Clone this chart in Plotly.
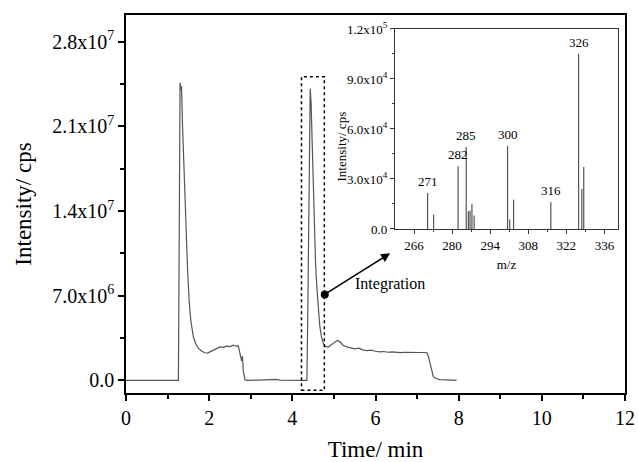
import plotly.graph_objects as go

# ---------------- data ----------------
time_min = [0.0, 1.26, 1.28, 1.30, 1.32, 1.335, 1.36, 1.40, 1.44, 1.48, 1.52, 1.56, 1.62, 1.68,
            1.74, 1.82, 1.90, 1.96, 2.02, 2.10, 2.18, 2.26, 2.34, 2.42, 2.50, 2.58, 2.64, 2.70,
            2.73, 2.76, 2.78, 2.80, 2.82, 2.86, 2.90, 3.20, 3.50, 3.60, 3.70, 4.00, 4.35,
            4.37, 4.40, 4.43, 4.45, 4.48, 4.50, 4.53, 4.56, 4.59, 4.62, 4.66, 4.70, 4.75, 4.80,
            4.86, 4.92, 5.00, 5.08, 5.14, 5.22, 5.31, 5.40, 5.50, 5.60, 5.71, 5.80, 5.90, 6.00,
            6.11, 6.20, 6.30, 6.40, 6.51, 6.60, 6.70, 6.80, 6.91, 7.00, 7.10, 7.20, 7.24, 7.27,
            7.31, 7.35, 7.39, 7.45, 7.55, 7.70, 7.80, 7.95]
intensity = [0.0, 0.0, 12.0e6, 24.6e6, 24.0e6, 24.3e6, 21.0e6, 16.5e6, 12.5e6, 9.2e6, 6.5e6, 4.9e6,
             3.6e6, 3.0e6, 2.65e6, 2.4e6, 2.28e6, 2.25e6, 2.35e6, 2.5e6, 2.6e6, 2.76e6, 2.72e6,
             2.82e6, 2.78e6, 2.9e6, 2.82e6, 2.85e6, 2.4e6, 1.9e6, 1.6e6, 2.0e6, 0.8e6, 0.05e6, 0.0,
             0.02e6, 0.03e6, 0.08e6, 0.02e6, 0.0, 0.0,
             5.0e6, 18.0e6, 24.1e6, 23.0e6, 19.0e6, 15.5e6, 12.0e6, 9.5e6, 7.7e6, 6.0e6, 4.5e6,
             3.6e6, 3.0e6, 2.8e6, 2.75e6, 2.9e6, 3.1e6, 3.3e6, 3.2e6, 2.9e6, 2.76e6, 2.7e6, 2.6e6,
             2.65e6, 2.5e6, 2.45e6, 2.5e6, 2.4e6, 2.35e6, 2.38e6, 2.32e6, 2.35e6, 2.3e6, 2.28e6,
             2.32e6, 2.3e6, 2.3e6, 2.28e6, 2.3e6, 2.3e6, 2.25e6, 2.0e6, 1.4e6, 0.8e6, 0.3e6,
             0.15e6, 0.05e6, 0.03e6, 0.0, 0.0]

mz = [271.0, 273.2, 282.2, 285.2, 286.0, 286.6, 287.3, 288.1, 300.4, 301.2, 302.6, 316.3,
      326.5, 327.7, 328.4]
mz_intensity = [21600, 8600, 37600, 49200, 10600, 11000, 15000, 8000, 50000, 5600, 17600,
                16000, 105200, 24000, 37200]
peak_labels = ["271", "282", "285", "300", "316", "326"]
peak_label_mz = [271.0, 282.2, 285.2, 300.4, 316.3, 326.5]
peak_label_int = [21600, 37600, 49200, 50000, 16000, 105200]

main_xticks = [0, 2, 4, 6, 8, 10, 12]
main_yticks = [0, 7.0e6, 1.4e7, 2.1e7, 2.8e7]
main_yticktext = ["0.0", "7.0x10<sup>6</sup>", "1.4x10<sup>7</sup>",
                  "2.1x10<sup>7</sup>", "2.8x10<sup>7</sup>"]
inset_xticks = [266, 280, 294, 308, 322, 336]
inset_yticks = [0, 3.0e4, 6.0e4, 9.0e4, 1.2e5]
inset_yticktext = ["0.0", "3.0x10<sup>4</sup>", "6.0x10<sup>4</sup>",
                   "9.0x10<sup>4</sup>", "1.2x10<sup>5</sup>"]

integ_point = (4.78, 7.1e6)
arrow_head = (6.35, 10.5e6)
box_t = (4.22, 4.77)
box_i = (-0.83e6, 25.1e6)

FONT = "Liberation Serif"
TRACE_COL = "#555555"

fig = go.Figure()
fig.add_trace(go.Scatter(x=time_min, y=intensity, mode="lines",
                         line=dict(color=TRACE_COL, width=1.2), xaxis="x", yaxis="y",
                         showlegend=False))

stick_x, stick_y = [], []
for m, v in zip(mz, mz_intensity):
    stick_x += [m, m, None]
    stick_y += [0, v, None]
fig.add_trace(go.Scatter(x=stick_x, y=stick_y, mode="lines",
                         line=dict(color=TRACE_COL, width=1.2), xaxis="x2", yaxis="y2",
                         showlegend=False))

fig.add_trace(go.Scatter(x=[integ_point[0]], y=[integ_point[1]], mode="markers",
                         marker=dict(color="black", size=8), showlegend=False))

fig.add_shape(type="rect", x0=box_t[0], x1=box_t[1], y0=box_i[0], y1=box_i[1],
              xref="x", yref="y", line=dict(color="black", width=1.5, dash="dot"))

fig.add_annotation(x=arrow_head[0], y=arrow_head[1], ax=integ_point[0], ay=integ_point[1],
                   xref="x", yref="y", axref="x", ayref="y", text="", showarrow=True,
                   arrowhead=2, arrowsize=1.2, arrowwidth=1.5, arrowcolor="black")
fig.add_annotation(x=5.46, y=7.95e6, xref="x", yref="y", text="Integration", showarrow=False,
                   xanchor="left", yanchor="middle", font=dict(family=FONT, size=16, color="black"))

for lab, xm, yi in zip(peak_labels, peak_label_mz, peak_label_int):
    fig.add_annotation(x=xm, y=yi, xref="x2", yref="y2", text=lab, showarrow=False,
                       yanchor="bottom", yshift=2, font=dict(family=FONT, size=13, color="black"))

# inset y-axis title (placed as in the reference, slightly below centre)
fig.add_annotation(x=0.432, y=0.651, xref="paper", yref="paper", text="Intensity/ cps",
                   textangle=-90, showarrow=False, xanchor="center", yanchor="middle",
                   font=dict(family=FONT, size=13, color="black"))

axis_common = dict(showline=True, mirror=True, linecolor="black", linewidth=1.5,
                   ticks="outside", tickcolor="black", showgrid=False, zeroline=False,
                   automargin=False)

fig.update_layout(
    width=638, height=462,
    margin=dict(l=126, r=13, t=15, b=69),
    paper_bgcolor="white", plot_bgcolor="white",
    font=dict(family=FONT, color="black"),
    xaxis=dict(range=[0, 12], tickvals=main_xticks, ticklen=6, tickwidth=1.5,
               tickfont=dict(size=20),
               minor=dict(tickmode="array", tickvals=[1, 3, 5, 7, 9, 11], ticklen=4,
                          tickwidth=1.5, ticks="outside", tickcolor="black"),
               title=dict(text="Time/ min", font=dict(size=23), standoff=16),
               **axis_common),
    yaxis=dict(range=[-1.05e6, 3.02e7], tickvals=main_yticks, ticktext=main_yticktext,
               ticklen=6, tickwidth=1.5, tickfont=dict(size=20),
               minor=dict(tickmode="array", tickvals=[3.5e6, 10.5e6, 17.5e6, 24.5e6],
                          ticklen=4, tickwidth=1.5, ticks="outside", tickcolor="black"),
               title=dict(text="Intensity/ cps", font=dict(size=23), standoff=14),
               **axis_common),
    xaxis2=dict(domain=[0.539, 0.986], anchor="y2", range=[259, 341], tickvals=inset_xticks,
                ticklen=4, tickwidth=1, tickfont=dict(size=13),
                minor=dict(tickmode="array", tickvals=[273, 287, 301, 315, 329], ticklen=2,
                           tickwidth=1, ticks="outside", tickcolor="#333"),
                title=dict(text="m/z", font=dict(size=13), standoff=8),
                showline=True, mirror=True, linecolor="#333", linewidth=1.2,
                ticks="outside", tickcolor="#333", showgrid=False, zeroline=False,
                automargin=False),
    yaxis2=dict(domain=[0.434, 0.963], anchor="x2", range=[0, 1.2e5], tickvals=inset_yticks,
                ticktext=inset_yticktext, ticklen=4, tickwidth=1, tickfont=dict(size=13),
                minor=dict(tickmode="array", tickvals=[1.5e4, 4.5e4, 7.5e4, 1.05e5], ticklen=2,
                           tickwidth=1, ticks="outside", tickcolor="#333"),
                showline=True, mirror=True, linecolor="#333", linewidth=1.2,
                ticks="outside", tickcolor="#333", showgrid=False, zeroline=False,
                automargin=False),
)

fig.write_html("out.html", config={"displayModeBar": False},
               post_script="document.body.style.margin='0px';")
